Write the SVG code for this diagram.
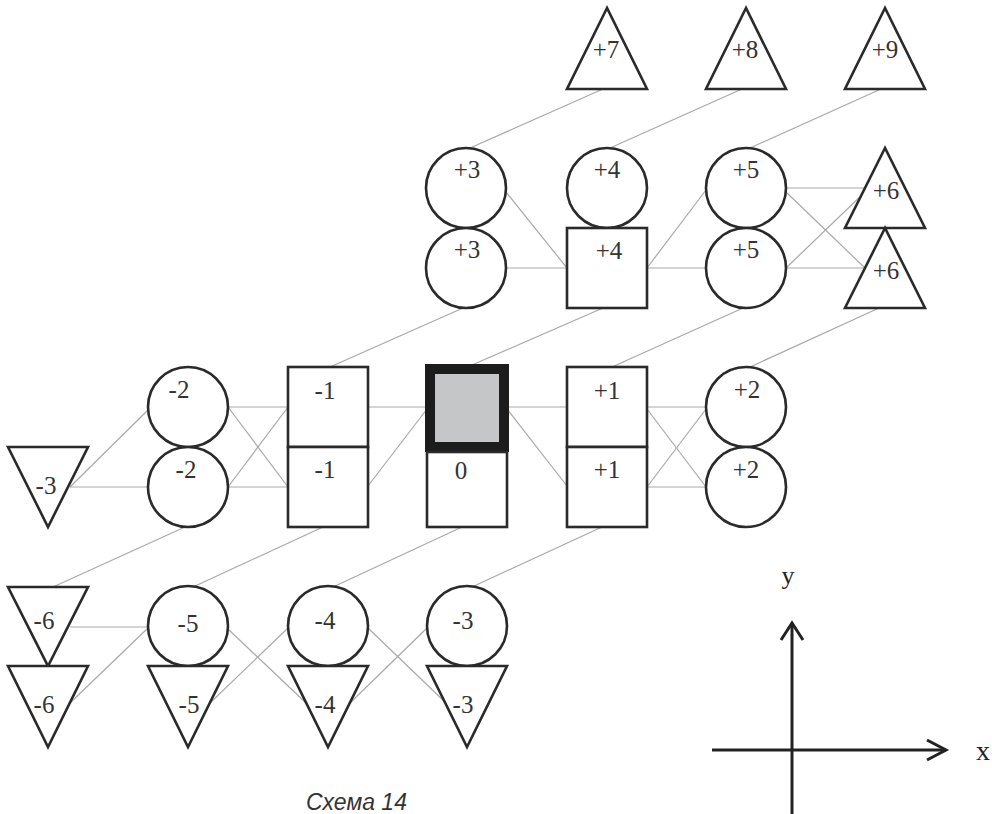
<svg xmlns="http://www.w3.org/2000/svg" width="992" height="814" viewBox="0 0 992 814">
  <style>
    .shape { fill: #ffffff; stroke: #2a2a2a; stroke-width: 2.6; }
    .link { stroke: #a9a9a9; stroke-width: 1.2; fill: none; }
    .lbl { font-family: "Liberation Serif", "Times New Roman", serif; font-size: 25px; fill: #333333; text-anchor: middle; }
    .axis { stroke: #222222; stroke-width: 3; fill: none; stroke-linecap: butt; stroke-linejoin: miter; }
    .axlbl { font-family: "Liberation Serif", "Times New Roman", serif; fill: #222222; text-anchor: middle; }
    .caption { font-family: "Liberation Sans", Arial, sans-serif; font-style: italic; font-size: 23px; fill: #333333; }
  </style>

  <rect width="992" height="814" fill="#ffffff"/>

  <!-- thin grey links between cells -->
  <g id="connectors" class="link">
    <!-- top triangles down to upper circles -->
    <line x1="603" y1="89" x2="470" y2="148"/>
    <line x1="742" y1="89" x2="610" y2="148"/>
    <line x1="881" y1="89" x2="750" y2="148"/>
    <!-- upper block crossings -->
    <line x1="506" y1="192" x2="567" y2="268"/>
    <line x1="506" y1="268" x2="567" y2="268"/>
    <line x1="647" y1="268" x2="706" y2="190"/>
    <line x1="647" y1="268" x2="706" y2="268"/>
    <line x1="786" y1="188" x2="865" y2="188"/>
    <line x1="786" y1="192" x2="865" y2="268"/>
    <line x1="786" y1="268" x2="865" y2="268"/>
    <line x1="786" y1="268" x2="865" y2="192"/>
    <!-- upper block down to middle row -->
    <line x1="463" y1="308" x2="330" y2="367"/>
    <line x1="603" y1="308" x2="472" y2="365"/>
    <line x1="743" y1="308" x2="612" y2="367"/>
    <line x1="879" y1="308" x2="750" y2="367"/>
    <!-- middle row crossings -->
    <line x1="70" y1="487" x2="148" y2="410"/>
    <line x1="70" y1="487" x2="148" y2="487"/>
    <line x1="228" y1="407" x2="288" y2="407"/>
    <line x1="228" y1="407" x2="288" y2="487"/>
    <line x1="228" y1="487" x2="288" y2="487"/>
    <line x1="228" y1="487" x2="288" y2="407"/>
    <line x1="368" y1="407" x2="427" y2="407"/>
    <line x1="368" y1="486" x2="427" y2="409"/>
    <line x1="507" y1="407" x2="567" y2="407"/>
    <line x1="507" y1="409" x2="567" y2="486"/>
    <line x1="647" y1="407" x2="706" y2="407"/>
    <line x1="647" y1="409" x2="706" y2="487"/>
    <line x1="647" y1="487" x2="706" y2="409"/>
    <line x1="647" y1="487" x2="706" y2="487"/>
    <!-- middle row down to bottom row -->
    <line x1="185" y1="527" x2="53" y2="587"/>
    <line x1="323" y1="527" x2="193" y2="587"/>
    <line x1="462" y1="527" x2="333" y2="587"/>
    <line x1="602" y1="527" x2="472" y2="587"/>
    <!-- bottom row crossings -->
    <line x1="70" y1="627" x2="148" y2="627"/>
    <line x1="70" y1="703" x2="148" y2="628"/>
    <line x1="228" y1="629" x2="306" y2="703"/>
    <line x1="210" y1="703" x2="288" y2="628"/>
    <line x1="368" y1="628" x2="446" y2="703"/>
    <line x1="350" y1="703" x2="427" y2="628"/>
  </g>

  <!-- top triangles -->
  <g id="n-p7"><polygon class="shape" points="607,8 567,89 647,89"/><text class="lbl" x="606" y="58">+7</text></g>
  <g id="n-p8"><polygon class="shape" points="746,8 706,89 786,89"/><text class="lbl" x="745" y="58">+8</text></g>
  <g id="n-p9"><polygon class="shape" points="885,8 845,89 925,89"/><text class="lbl" x="885" y="58">+9</text></g>

  <!-- upper block -->
  <g id="n-p3a"><circle class="shape" cx="466" cy="188" r="40"/><text class="lbl" x="467" y="178">+3</text></g>
  <g id="n-p3b"><circle class="shape" cx="466" cy="268" r="40"/><text class="lbl" x="467" y="258">+3</text></g>
  <g id="n-p4a"><circle class="shape" cx="607" cy="188" r="40"/><text class="lbl" x="607" y="178">+4</text></g>
  <g id="n-p4b"><rect class="shape" x="567" y="228" width="80" height="80"/><text class="lbl" x="609" y="259">+4</text></g>
  <g id="n-p5a"><circle class="shape" cx="746" cy="188" r="40"/><text class="lbl" x="746" y="178">+5</text></g>
  <g id="n-p5b"><circle class="shape" cx="746" cy="268" r="40"/><text class="lbl" x="746" y="258">+5</text></g>
  <g id="n-p6a"><polygon class="shape" points="885,148 845,228 925,228"/><text class="lbl" x="886" y="199">+6</text></g>
  <g id="n-p6b"><polygon class="shape" points="885,228 845,308 925,308"/><text class="lbl" x="886" y="279">+6</text></g>

  <!-- middle row -->
  <g id="n-m3"><polygon class="shape" points="8,447 88,447 48,527"/><text class="lbl" x="46" y="494">-3</text></g>
  <g id="n-m2a"><circle class="shape" cx="188" cy="407" r="40"/><text class="lbl" x="179" y="398">-2</text></g>
  <g id="n-m2b"><circle class="shape" cx="188" cy="487" r="40"/><text class="lbl" x="186" y="478">-2</text></g>
  <g id="n-m1a"><rect class="shape" x="288" y="367" width="80" height="80"/><text class="lbl" x="325" y="399">-1</text></g>
  <g id="n-m1b"><rect class="shape" x="288" y="447" width="80" height="80"/><text class="lbl" x="325" y="478">-1</text></g>
  <g id="n-origin"><rect x="430" y="369" width="74" height="78" fill="#c5c6c8" stroke="#1c1c1c" stroke-width="10"/></g>
  <g id="n-zero"><rect class="shape" x="427" y="452" width="80" height="75"/><text class="lbl" x="461" y="479">0</text></g>
  <g id="n-p1a"><rect class="shape" x="567" y="367" width="80" height="80"/><text class="lbl" x="607" y="399">+1</text></g>
  <g id="n-p1b"><rect class="shape" x="567" y="447" width="80" height="80"/><text class="lbl" x="607" y="478">+1</text></g>
  <g id="n-p2a"><circle class="shape" cx="746" cy="407" r="40"/><text class="lbl" x="747" y="398">+2</text></g>
  <g id="n-p2b"><circle class="shape" cx="746" cy="487" r="40"/><text class="lbl" x="746" y="478">+2</text></g>

  <!-- bottom row -->
  <g id="n-m6a"><polygon class="shape" points="8,587 88,587 48,666"/><text class="lbl" x="44" y="629">-6</text></g>
  <g id="n-m6b"><polygon class="shape" points="8,666 88,666 48,747"/><text class="lbl" x="44" y="713">-6</text></g>
  <g id="n-m5a"><circle class="shape" cx="188" cy="626" r="40"/><text class="lbl" x="188" y="632">-5</text></g>
  <g id="n-m5b"><polygon class="shape" points="148,666 228,666 188,747"/><text class="lbl" x="189" y="713">-5</text></g>
  <g id="n-m4a"><circle class="shape" cx="328" cy="626" r="40"/><text class="lbl" x="325" y="629">-4</text></g>
  <g id="n-m4b"><polygon class="shape" points="288,666 368,666 328,747"/><text class="lbl" x="325" y="713">-4</text></g>
  <g id="n-m3c"><circle class="shape" cx="467" cy="626" r="40"/><text class="lbl" x="463" y="629">-3</text></g>
  <g id="n-m3d"><polygon class="shape" points="427,666 507,666 467,747"/><text class="lbl" x="463" y="713">-3</text></g>

  <!-- coordinate axes -->
  <g id="axes">
    <line class="axis" x1="792" y1="623" x2="792" y2="814"/>
    <polyline class="axis" points="781,640 792,623 803,640"/>
    <line class="axis" x1="712" y1="750" x2="946" y2="750"/>
    <polyline class="axis" points="927,740 946,750 927,760"/>
    <text class="axlbl" x="788" y="584" font-size="26">y</text>
    <text class="axlbl" x="983" y="760" font-size="28">x</text>
  </g>

  <text class="caption" x="306" y="810">Схема 14</text>
</svg>
